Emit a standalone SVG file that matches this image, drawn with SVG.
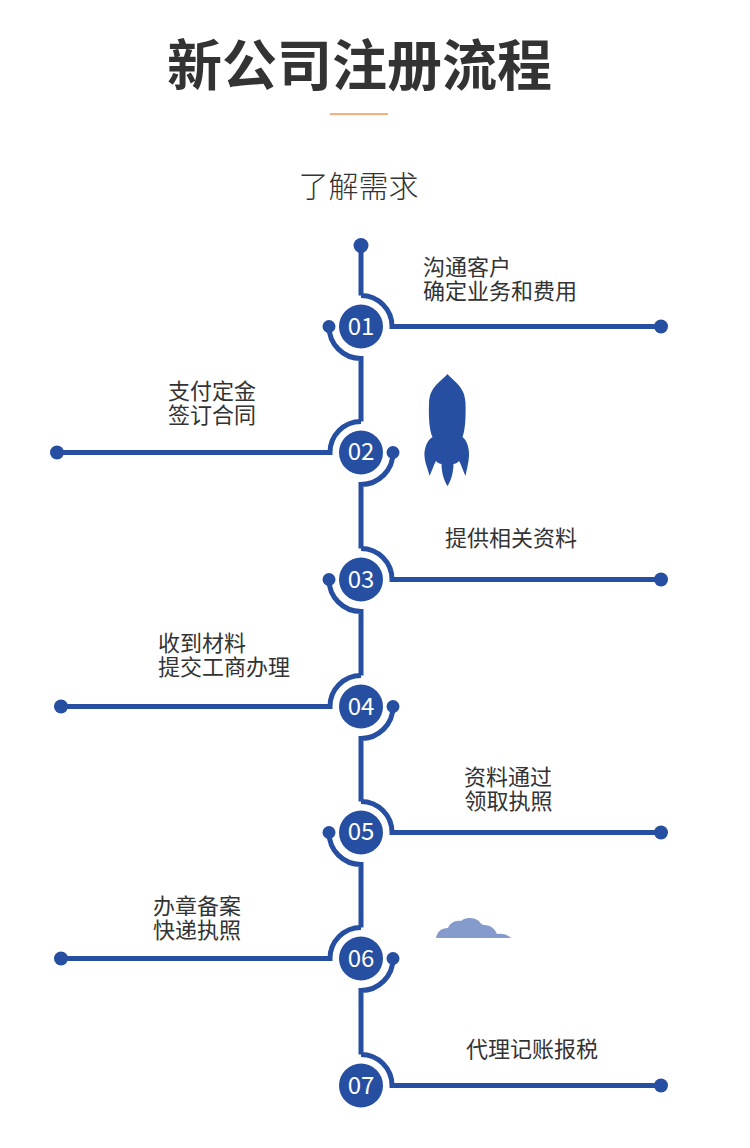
<svg xmlns="http://www.w3.org/2000/svg" width="750" height="1148" viewBox="0 0 750 1148">
<style>
text{font-family:"Noto Sans CJK SC","Noto Sans",sans-serif;fill:#333}
.title{font-size:55px;font-weight:700;text-anchor:middle}
.sub{font-size:30px;text-anchor:middle;font-weight:300}
.lab{font-size:22px;font-weight:400}
.num{font-size:24px;fill:#fff;text-anchor:middle}
.ln{fill:none;stroke:#264fa2;stroke-width:5}
.dot,.disc{fill:#264fa2}
</style>
<rect width="750" height="1148" fill="#fff"/>
<text class="title" x="359.500" y="85">新公司注册流程</text>
<rect x="330" y="113" width="58" height="2" fill="#f9ad7c"/>
<text class="sub" x="358.500" y="197">了解需求</text>
<g id="connectors" transform="translate(0 .5)">
<path class="ln" d="M361 245V295"/>
<path class="ln" d="M361 295A31 31 0 0 1 392 326H661"/>
<path class="ln" d="M329 326A32 32 0 0 0 361 358V421"/>
<path class="ln" d="M361 421A31 31 0 0 0 330 452H57"/>
<path class="ln" d="M393 452A32 32 0 0 1 361 484V548"/>
<path class="ln" d="M361 548A31 31 0 0 1 392 579H661"/>
<path class="ln" d="M329 579A32 32 0 0 0 361 611V675"/>
<path class="ln" d="M361 675A31 31 0 0 0 330 706H61"/>
<path class="ln" d="M393 706A32 32 0 0 1 361 738V801"/>
<path class="ln" d="M361 801A31 31 0 0 1 392 832H661"/>
<path class="ln" d="M329 832A32 32 0 0 0 361 864V927"/>
<path class="ln" d="M361 927A31 31 0 0 0 330 958H61"/>
<path class="ln" d="M393 958A32 32 0 0 1 361 990V1054"/>
<path class="ln" d="M361 1054A31 31 0 0 1 392 1085H661"/>
<circle class="dot" cx="361" cy="245" r="7.500"/>
</g>
<g id="node-01">
<circle class="disc" cx="361" cy="326.500" r="22"/><circle class="dot" cx="329" cy="326.500" r="6.500"/><circle class="dot" cx="661" cy="326.500" r="7"/>
<text class="num" x="361" y="335">01</text>
<text class="lab" x="423" y="275">沟通客户<tspan x="423" dy="24">确定业务和费用</tspan></text>
</g>
<g id="node-02">
<circle class="disc" cx="361" cy="452.500" r="22"/><circle class="dot" cx="393" cy="452.500" r="6.500"/><circle class="dot" cx="57" cy="452.500" r="7"/>
<text class="num" x="361" y="459.500">02</text>
<text class="lab" x="168" y="399">支付定金<tspan x="168" dy="24">签订合同</tspan></text>
</g>
<g id="node-03">
<circle class="disc" cx="361" cy="579.500" r="22"/><circle class="dot" cx="329" cy="579.500" r="6.500"/><circle class="dot" cx="661" cy="579.500" r="7"/>
<text class="num" x="361" y="588">03</text>
<text class="lab" x="445" y="546">提供相关资料</text>
</g>
<g id="node-04">
<circle class="disc" cx="361" cy="706.500" r="22"/><circle class="dot" cx="393" cy="706.500" r="6.500"/><circle class="dot" cx="61" cy="706.500" r="7"/>
<text class="num" x="361" y="715">04</text>
<text class="lab" x="158" y="651">收到材料<tspan x="158" dy="24">提交工商办理</tspan></text>
</g>
<g id="node-05">
<circle class="disc" cx="361" cy="832.500" r="22"/><circle class="dot" cx="329" cy="832.500" r="6.500"/><circle class="dot" cx="661" cy="832.500" r="7"/>
<text class="num" x="361" y="840">05</text>
<text class="lab" x="464" y="785">资料通过<tspan x="464.500" dy="24">领取执照</tspan></text>
</g>
<g id="node-06">
<circle class="disc" cx="361" cy="958.500" r="22"/><circle class="dot" cx="393" cy="958.500" r="6.500"/><circle class="dot" cx="61" cy="958.500" r="7"/>
<text class="num" x="361" y="966.500">06</text>
<text class="lab" x="153" y="914">办章备案<tspan x="153" dy="24">快递执照</tspan></text>
</g>
<g id="node-07">
<circle class="disc" cx="361" cy="1085.500" r="22"/><circle class="dot" cx="661" cy="1085.500" r="7"/>
<text class="num" x="361" y="1094">07</text>
<text class="lab" x="466" y="1057">代理记账报税</text>
</g>
<path id="rocket" fill="#264fa2" d="M447.500 374C453 381 465 386 465.500 403C466 418 465 431 462.500 437C467 440 469.500 449 469 456C468.500 464 466.500 470 465.500 476C463 471 461.500 465 459 461C457.500 463 455 464 453.500 464C453.500 472 451 481 447.500 486C444 481 441.500 472 441.500 464C440 464 437.500 463 436 461C433.500 465 432 471 429.500 476C428.500 470 425 464 424.500 456C424 449 427 440 432.500 437C429.500 431 428.500 418 429 403C429.500 386 442 381 447.500 374Z"/>
<path id="cloud" fill="#859bcc" d="M436 938C437 932 441 928 448 928C450 923 455 920 461 921C465 917 474 917 479 921C481 924 483 925 484 925C491 925 495 929 497 934C502 933 507 934 511 938Z"/>
</svg>
